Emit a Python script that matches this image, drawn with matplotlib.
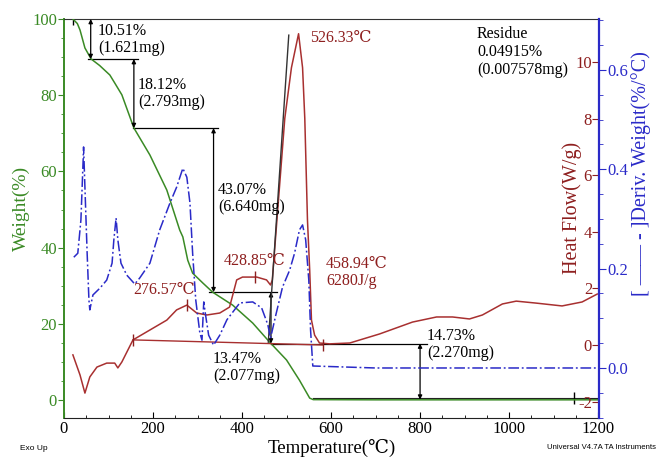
import numpy as np
import matplotlib.pyplot as plt
from matplotlib.ticker import MultipleLocator

plt.rcParams['font.family'] = ['Liberation Serif', 'DejaVu Serif', 'DejaVu Sans']
plt.rcParams['axes.unicode_minus'] = False

# TGA weight curve (%)
tga_temp = [20, 30, 36, 47, 61, 80, 103, 114, 130, 157, 193, 231, 260, 267, 278, 289,
            312, 334, 379, 424, 462, 500, 529, 552, 560, 700, 900, 1100, 1200]
tga_weight = [100, 98.8, 97.1, 92.4, 89.5, 87.8, 85.3, 83.2, 80.1, 71.4, 64.3, 55.1, 44.6, 42.8, 36.7, 33.3,
              30.7, 28.3, 24.9, 20.2, 15.2, 10.5, 5.2, 0.5, 0.1, 0.05, 0.05, 0.05, 0.05]

# DTG curve (%/C)
dtg_temp = [22, 31, 38, 43, 44, 47, 52, 56, 58, 65, 81, 96, 108, 112, 117, 121, 128, 141, 159, 170,
            193, 215, 238, 253, 267, 276, 283, 289, 296, 305, 310, 314, 318, 325, 336, 350, 366,
            395, 424, 444, 458, 464, 476, 491, 507, 518, 529, 536, 543, 550, 554, 559, 700, 1000, 1200]
dtg_deriv = [0.223, 0.231, 0.298, 0.418, 0.445, 0.364, 0.231, 0.137, 0.117, 0.147, 0.161, 0.177, 0.211,
             0.258, 0.302, 0.258, 0.211, 0.187, 0.169, 0.181, 0.211, 0.278, 0.332, 0.364, 0.402, 0.384,
             0.332, 0.231, 0.137, 0.072, 0.056, 0.133, 0.107, 0.066, 0.046, 0.066, 0.097, 0.131, 0.133,
             0.121, 0.087, 0.060, 0.107, 0.163, 0.197, 0.231, 0.278, 0.288, 0.258, 0.177, 0.076, 0.004,
             0.0, 0.0, 0.0]

# DSC heat flow (W/g)
dsc_temp = [20, 36, 47, 58, 74, 96, 114, 121, 130, 155, 193, 231, 253, 276, 298, 321, 350, 372,
            388, 401, 433, 455, 464, 468, 496, 511, 527, 536, 541, 547, 552, 556, 563, 574, 597,
            642, 709, 783, 837, 873, 911, 940, 985, 1016, 1061, 1119, 1164, 1198]
dsc_flow = [-0.35, -1.06, -1.70, -1.13, -0.78, -0.64, -0.64, -0.81, -0.60, 0.18, 0.53, 0.88, 1.24,
            1.41, 1.13, 1.06, 1.13, 1.34, 2.30, 2.40, 2.40, 2.30, 2.12, 2.30, 8.0, 9.8, 11.0, 9.8,
            8.0, 4.42, 2.65, 0.88, 0.35, 0.07, 0.04, 0.07, 0.39, 0.81, 0.99, 0.99, 0.92, 1.06, 1.45,
            1.55, 1.48, 1.38, 1.52, 1.80]

# step analysis
step_temp = [60, 157, 336, 465, 800]
step_top = [100, 89.49, 71.37, 28.30, 14.83]
step_bottom = [89.49, 71.37, 28.30, 14.83, 0.10]
shelf_level = [89.49, 71.37, 28.30, 14.83]
shelf_from = [54, 155, 326, 464]
shelf_to = [166, 346, 478, 815]
residue_temp = 1146
residue_weight = 0.5

# DSC peak analysis
base_temp = [155, 581]
base_flow = [0.18, 0.0]
tangent_temp = [459, 505]
tangent_flow = [0.1, 10.95]
peak_temp = [276.57, 428.85]
peak_flow = [1.41, 2.40]

green = '#3a8a25'
red = '#a83030'
dred = '#8e1f1f'
blue = '#2a2ac8'

W, H = 662, 461
fig = plt.figure(figsize=(W / 100, H / 100), dpi=100)
ax = fig.add_axes([64 / W, 43 / H, 535 / W, 399 / H])
ax2 = ax.twinx()
ax3 = ax.twinx()


def ptext(x, y, s, **kw):
    fig.text(x / W, 1 - y / H, s, **kw)


# weight axis
ax.plot(tga_temp, tga_weight, color=green, lw=1.1, zorder=3)
ax.set_xlim(0, 1202)
ax.set_ylim(-4.72, 100)
ax.xaxis.set_major_locator(MultipleLocator(200))
ax.xaxis.set_minor_locator(MultipleLocator(50))
ax.yaxis.set_major_locator(MultipleLocator(20))
ax.yaxis.set_minor_locator(MultipleLocator(5))
ax.tick_params(axis='x', which='both', direction='in', labelsize=12, pad=2, color='black')
ax.tick_params(axis='x', which='major', length=4)
ax.tick_params(axis='x', which='minor', length=2.5)
ax.tick_params(axis='y', which='both', direction='out', colors=green, labelsize=12, pad=1)
ax.tick_params(axis='y', which='major', length=4)
ax.tick_params(axis='y', which='minor', length=2.5)
ax.spines['left'].set_color(green)
ax.spines['left'].set_linewidth(1.4)
ax.spines['top'].set_color('#333333')
ax.spines['bottom'].set_color('#222222')
ax.spines['right'].set_visible(False)

# step lines and arrows
for t, a, b in zip(step_temp, step_top, step_bottom):
    ax.annotate('', xy=(t, b), xytext=(t, a),
                arrowprops=dict(arrowstyle='<|-|>', color='black', lw=0.9,
                                mutation_scale=6, shrinkA=0, shrinkB=0))
for lv, a, b in zip(shelf_level, shelf_from, shelf_to):
    ax.plot([a, b], [lv, lv], color='black', lw=0.9)
ax.plot([560, 1200], [residue_weight, residue_weight], color='#222222', lw=0.8, zorder=2)
ax.plot([tga_temp[0]], [100], marker='|', color='black', ms=8)
ax.plot([residue_temp], [residue_weight], marker='|', color='black', ms=8)

# heat flow axis
ax2.plot(dsc_temp, dsc_flow, color=red, lw=1.1)
ax2.plot(base_temp, base_flow, color=red, lw=1.0)
ax2.plot(tangent_temp, tangent_flow, color='#333333', lw=1.0)
ax2.plot(peak_temp, peak_flow, ls='none', marker='|', color=dred, ms=8)
ax2.plot(base_temp, base_flow, ls='none', marker='|', color=dred, ms=8)
ax2.set_ylim(-2.58, 11.52)
ax2.set_yticks([-2, 0, 2, 4, 6, 8, 10])
ax2.tick_params(axis='y', direction='in', length=5, colors=dred, labelsize=12, pad=-5)
for tk in ax2.yaxis.get_major_ticks():
    tk.label2.set_horizontalalignment('right')
for s in ax2.spines.values():
    s.set_visible(False)

# derivative axis
ax3.plot(dtg_temp, dtg_deriv, color=blue, lw=1.1, ls=(0, (7, 1.8, 1.2, 1.8)))
ax3.set_ylim(-0.1007, 0.7026)
ax3.set_yticks([0.0, 0.2, 0.4, 0.6])
ax3.yaxis.set_minor_locator(MultipleLocator(0.05))
ax3.tick_params(axis='y', which='both', direction='out', colors=blue, labelsize=12, pad=1)
ax3.tick_params(axis='y', which='major', length=5)
ax3.tick_params(axis='y', which='minor', length=3)
for k in ['left', 'top', 'bottom']:
    ax3.spines[k].set_visible(False)
ax3.spines['right'].set_color(blue)
ax3.spines['right'].set_linewidth(1.6)

# annotations
tfont = dict(fontsize=11.5, linespacing=1.05, va='top', ha='left')
ptext(98, 23, '10.51%\n(1.621mg)', **tfont)
ptext(138, 77, '18.12%\n(2.793mg)', **tfont)
ptext(218, 182, '43.07%\n(6.640mg)', **tfont)
ptext(213, 351, '13.47%\n(2.077mg)', **tfont)
ptext(427, 328, '14.73%\n(2.270mg)', **tfont)
ptext(477, 26, 'Residue\n0.04915%\n(0.007578mg)', **dict(tfont, linespacing=1.15))
ptext(310, 38, '526.33℃', color=dred, fontsize=11.5, va='center')
ptext(133, 290, '276.57℃', color=dred, fontsize=11.5, va='center')
ptext(224, 261, '428.85℃', color=dred, fontsize=11.5, va='center')
ptext(326, 256, '458.94℃\n6280J/g', color=dred, fontsize=11.5, va='top', linespacing=1.05)

# axis labels
ptext(21, 208, 'Weight(%)', color=green, fontsize=14, rotation=90, ha='center', va='center')
ptext(572, 208, 'Heat Flow(W/g)', color=dred, fontsize=14.5, rotation=90, ha='center', va='center')
ptext(641, 174, '[ —— - ]Deriv. Weight(%/°C)', color=blue, fontsize=14.5, rotation=90,
      ha='center', va='center')
ptext(332, 448, 'Temperature(℃)', fontsize=13.5, ha='center', va='center')
ptext(20, 448, 'Exo Up', fontsize=6, family='Liberation Sans', va='center')
ptext(656, 447, 'Universal V4.7A TA Instruments', fontsize=5.6, family='Liberation Sans',
      va='center', ha='right')

fig.savefig('out.png', dpi=100)
